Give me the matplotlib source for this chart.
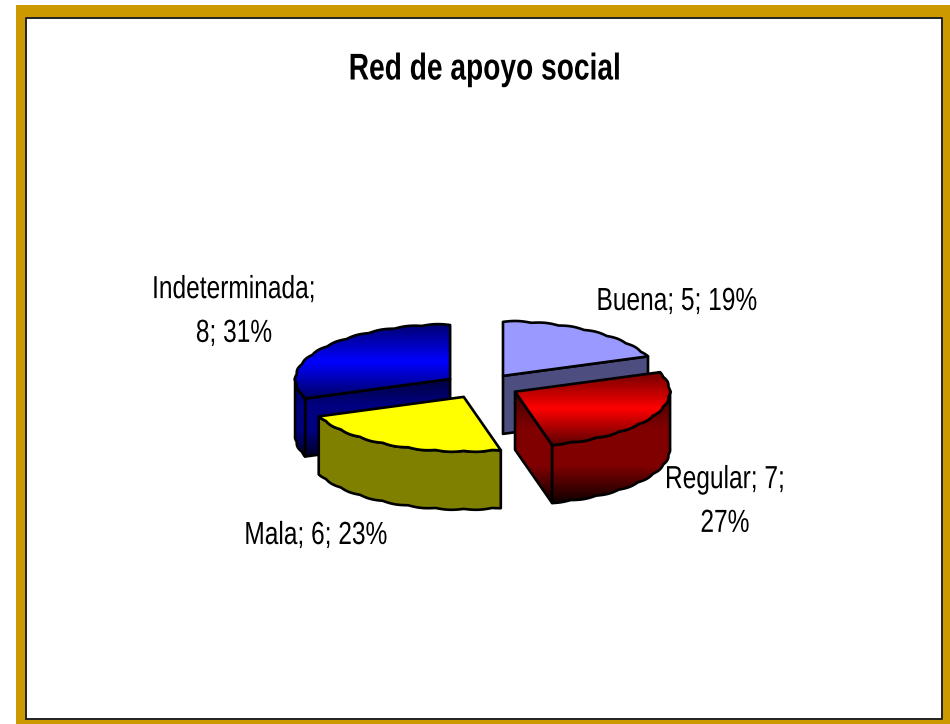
import numpy as np
import matplotlib
matplotlib.use("Agg")
import matplotlib.pyplot as plt
from matplotlib.patches import Polygon, Rectangle
from matplotlib.colors import LinearSegmentedColormap
from matplotlib.patheffects import AbstractPathEffect
from matplotlib.transforms import Affine2D

categories = ["Buena", "Regular", "Mala", "Indeterminada"]
values = [5, 7, 6, 8]
first_breaks = [" ", " ", " ", "\n"]
second_breaks = [" ", "\n", " ", " "]
title = "Red de apoyo social"

plt.rcParams["font.family"] = ["Liberation Sans", "DejaVu Sans"]
W, H = 950, 724
fig = plt.figure(figsize=(W / 100, H / 100), dpi=100)
ax = fig.add_axes([0, 0, 1, 1])
ax.set_xlim(0, W)
ax.set_ylim(H, 0)
ax.axis("off")


class Squeeze(AbstractPathEffect):
    """Narrow a text horizontally around its anchor (the original's type is condensed)."""

    def __init__(self, anchor_x, factor):
        super().__init__()
        self.anchor_x, self.factor = anchor_x, factor

    def draw_path(self, renderer, gc, tpath, affine, rgbFace=None):
        squeeze = Affine2D().translate(-self.anchor_x, 0).scale(self.factor, 1).translate(self.anchor_x, 0)
        renderer.draw_path(gc, tpath, affine + squeeze, rgbFace)


# frame
ax.add_patch(Rectangle((16, 5), W - 16, H - 5, fc="#CC9900", ec="none", zorder=0))
ax.add_patch(Rectangle((26, 18), 916, 701, fc="white", ec="none", zorder=0.1))
ax.plot([26, 26, 942, 942, 26], [719, 18, 18, 719, 719], color="#222222", lw=1.4, zorder=0.2)

cx, cy, a, b, depth, ex, ey = 481.4, 386, 154, 54, 58, 38, 12.3

styles = {
    "Buena": dict(top=["#9999FF"], side=["#4D4D80"]),
    "Regular": dict(top=["#700000", "#FF0000", "#5A0000"], side=["#400000", "#800000", "#800000", "#100000"]),
    "Mala": dict(top=["#FFFF00"], side=["#808000"]),
    "Indeterminada": dict(top=["#000070", "#0000FF", "#000060"], side=["#000040", "#000080", "#000080", "#000020"]),
}


def rim(x0, y0, t):
    # small outward bumps reproduce the faceted outline of the original
    d = 1.1 * np.abs(np.sin(t * 17))
    return x0 + (a + d) * np.sin(t), y0 - (b + d) * np.cos(t)


def fill(xy, colors, zorder):
    xy = np.asarray(xy)
    patch = Polygon(xy, closed=True, fc="none", ec="none", transform=ax.transData)
    ax.add_patch(patch)
    if len(colors) == 1:
        patch.set_facecolor(colors[0])
        patch.set_zorder(zorder)
    else:
        cmap = LinearSegmentedColormap.from_list("g", colors)
        y0, y1 = xy[:, 1].min(), xy[:, 1].max()
        im = ax.imshow(np.linspace(0, 1, 256)[:, None], cmap=cmap, aspect="auto",
                       extent=(xy[:, 0].min(), xy[:, 0].max(), y1, y0), zorder=zorder)
        im.set_clip_path(patch)
    ax.add_patch(Polygon(xy, closed=True, fc="none", ec="black", lw=1.9,
                         joinstyle="round", zorder=zorder + 0.01))


total = sum(values)
fracs = np.array(values) / total
starts = np.concatenate([[0], np.cumsum(fracs)[:-1]]) * 2 * np.pi
ends = np.cumsum(fracs) * 2 * np.pi
order = {"Buena": 1, "Indeterminada": 2, "Regular": 3, "Mala": 4}

for name, t0, t1 in zip(categories, starts, ends):
    mid = (t0 + t1) / 2
    x0 = cx + ex * np.sin(mid)
    y0 = cy - ey * np.cos(mid)
    ts = np.linspace(t0, t1, 400)
    rx, ry = rim(x0, y0, ts)
    z = order[name]
    st = styles[name]
    first = (rx[0], ry[0])
    last = (rx[-1], ry[-1])
    # walls facing the viewer: the edge runs leftward on screen
    if first[0] < x0 - 0.5:
        fill([(x0, y0), first, (first[0], first[1] + depth), (x0, y0 + depth)], st["side"], z + 0.1)
    if last[0] > x0 + 0.5:
        fill([last, (x0, y0), (x0, y0 + depth), (last[0], last[1] + depth)], st["side"], z + 0.1)
    facing = np.cos(ts) < 0.02
    if facing.any():
        fx, fy = rx[facing], ry[facing]
        fill(np.vstack([np.column_stack([fx, fy]),
                        np.column_stack([fx[::-1], fy[::-1] + depth])]), st["side"], z + 0.2)
    fill(np.vstack([[x0, y0], np.column_stack([rx, ry])]), st["top"], z + 0.3)

label_pos = [(677, 302), (725, 502), (316, 536), (234, 312)]
for name, v, br1, br2, (lx, ly) in zip(categories, values, first_breaks, second_breaks, label_pos):
    pct = round(100 * v / total)
    ax.text(lx, ly, f"{name};{br1}{v};{br2}{pct}%", ha="center", va="center",
            fontsize=23, color="black", linespacing=1.6, zorder=10,
            path_effects=[Squeeze(lx * fig.dpi / 100, 0.767)])
title_x = 485
ax.text(title_x, 70, title, ha="center", va="center", fontsize=26.8, fontweight="bold",
        color="black", zorder=10, path_effects=[Squeeze(title_x * fig.dpi / 100, 0.756)])
ax.set_xlim(0, W)
ax.set_ylim(H, 0)
fig.savefig("out.png", dpi=100)
